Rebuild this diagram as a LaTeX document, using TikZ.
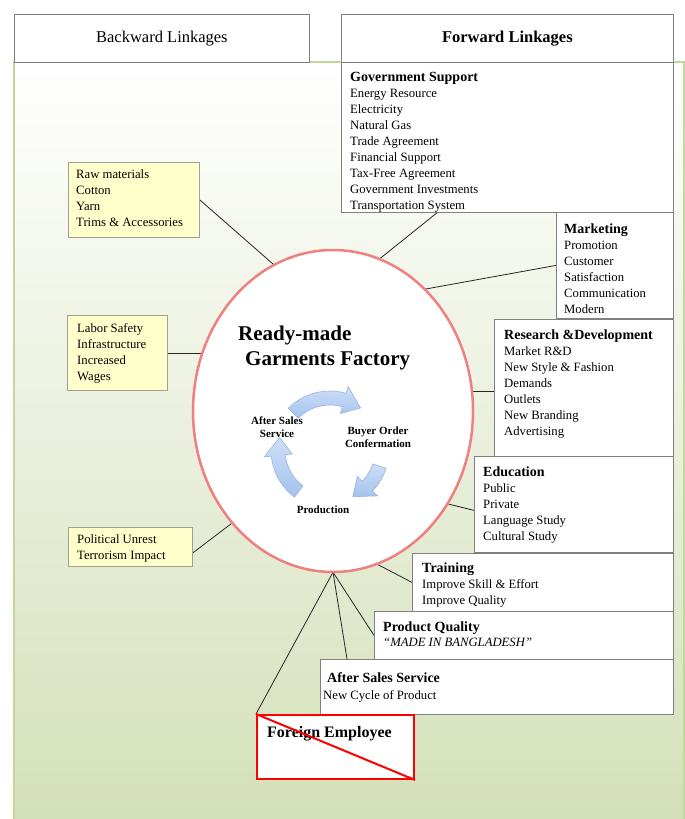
\documentclass[tikz,border=0pt]{standalone}
\usepackage{fontspec}
\setmainfont{Liberation Serif}
\usetikzlibrary{shapes.geometric,calc}
\definecolor{bggreen}{RGB}{212,224,185}
\definecolor{edgegreen}{RGB}{196,215,155}
\definecolor{boxgray}{RGB}{128,128,128}
\definecolor{yel}{RGB}{255,255,204}
\definecolor{yelgray}{RGB}{160,160,150}
\definecolor{ellred}{RGB}{240,128,128}
\definecolor{arrtop}{RGB}{205,222,247}
\definecolor{arrbot}{RGB}{165,195,238}
\definecolor{arredge}{RGB}{150,180,225}
\newcommand{\cycarrow}[2]{%
  \path[top color=arrtop, bottom color=arrbot, draw=arredge, line width=0.6pt] ({#1}:59) arc[start angle={#1}, end angle={#2-20}, radius=59]
    -- ({#2-20}:66) -- ({#2}:52) -- ({#2-20}:38) -- ({#2-20}:45)
    arc[start angle={#2-20}, end angle={#1}, radius=45] -- cycle;}
\begin{document}
\begin{tikzpicture}[x=1pt, y=-1pt,
  fbox/.style={draw=boxgray, line width=0.8pt, fill=white, rectangle, anchor=north west, inner sep=0pt},
  ybox/.style={draw=yelgray, line width=0.8pt, fill=yel, rectangle, anchor=north west, inner sep=0pt},
  txt/.style={anchor=north west, inner sep=0pt, align=left, font=\fontsize{12.7}{16}\selectfont},
  conn/.style={draw=black!85, line width=0.8pt},
  cyclbl/.style={inner sep=0pt, align=center, font=\fontsize{11}{12.5}\selectfont\bfseries}
]
\useasboundingbox (0,0) rectangle (685,819);
\fill[white] (0,0) rectangle (685,819);
% background panel
\fill[top color=white, bottom color=bggreen] (14,62) rectangle (684,819);
\draw[edgegreen, line width=1.5pt] (14,819) -- (14,62) -- (684,62) -- (684,819);

% header boxes
\node[fbox, minimum width=295pt, minimum height=48pt, font=\fontsize{16.5}{18}\selectfont] (back) at (14,14) {Backward Linkages};
\node[fbox, minimum width=332pt, minimum height=48pt, font=\fontsize{16.5}{18}\selectfont\bfseries] (fwd) at (341,14) {Forward Linkages};

% ellipse node (placed first for anchors)
\node[ellipse, minimum width=280pt, minimum height=322pt, inner sep=0pt] (fac) at (333,411) {};

% anchor-only nodes for the boxes
\path node[fbox, draw=none, fill=none, minimum width=332pt, minimum height=150pt] (gov) at (341,62) {}
      node[fbox, draw=none, fill=none, minimum width=117pt, minimum height=106pt] (mkt) at (556,212) {}
      node[fbox, draw=none, fill=none, minimum width=179pt, minimum height=137pt] (rd) at (494,319) {}
      node[fbox, draw=none, fill=none, minimum width=199pt, minimum height=96pt] (edu) at (474,456) {}
      node[fbox, draw=none, fill=none, minimum width=261pt, minimum height=58pt] (tr) at (412,553) {}
      node[fbox, draw=none, fill=none, minimum width=299pt, minimum height=48pt] (pq) at (374,611) {}
      node[fbox, draw=none, fill=none, minimum width=353pt, minimum height=55pt] (as) at (320,659) {}
      node[fbox, draw=none, fill=none, minimum width=157pt, minimum height=64pt] (fe) at (256,714) {}
      node[ybox, draw=none, fill=none, minimum width=131pt, minimum height=75pt] (raw) at (68,162) {}
      node[ybox, draw=none, fill=none, minimum width=100pt, minimum height=75pt] (lab) at (67,315) {}
      node[ybox, draw=none, fill=none, minimum width=124pt, minimum height=39pt] (pol) at (68,527) {};

% connectors
\draw[conn] (raw.east) -- (fac.112);
\draw[conn] (lab.east) -- (lab.east -| fac.center);
\draw[conn] ($(pol.east)+(0,6)$) -- (fac.228);
\draw[conn] (fac.73) -- ($(gov.south west)+(96,0)$);
\draw[conn] (fac.53) -- (mkt.west);
\draw[conn] ($(rd.west)+(0,3)$) -- ($(rd.west -| fac.center)+(0,3)$);
\draw[conn] (fac.321) -- ($(edu.west)+(0,6)$);
\draw[conn] (fac.286) -- (tr.west);
\draw[conn] (fac.south) -- (pq.west);
\draw[conn] (fac.south) -- ($(as.north west)+(27,0)$);
\draw[conn] (fac.south) -- (fe.north west);

% right-hand boxes
\node[fbox, minimum width=332pt, minimum height=150pt] (govbox) at (341,62) {};
\begin{scope}
\clip (gov.south west) rectangle (gov.north east);
\node[txt] (govtxt) at (350,72) {{\fontsize{14}{16}\selectfont\bfseries Government Support}\\Energy Resource\\Electricity\\Natural Gas\\Trade Agreement\\Financial Support\\Tax-Free Agreement\\Government Investments\\Transportation System};
\end{scope}
\node[fbox, minimum width=117pt, minimum height=106pt] (mktbox) at (556,212) {};
\node[txt] (mkttxt) at (564,223.5) {{\fontsize{14}{16}\selectfont\bfseries Marketing}\\Promotion\\Customer\\Satisfaction\\Communication\\Modern};
\node[fbox, minimum width=179pt, minimum height=137pt] (rdbox) at (494,319) {};
\node[txt] (rdtxt) at (504,329.5) {{\fontsize{14}{16}\selectfont\bfseries Research \&Development}\\Market R\&D\\New Style \& Fashion\\Demands\\Outlets\\New Branding\\Advertising};
\node[fbox, minimum width=199pt, minimum height=96pt] (edubox) at (474,456) {};
\node[txt] (edutxt) at (483,466.5) {{\fontsize{14}{16}\selectfont\bfseries Education}\\Public\\Private\\Language Study\\Cultural Study};
\node[fbox, minimum width=261pt, minimum height=58pt] (trbox) at (412,553) {};
\node[txt] (trtxt) at (422,562.5) {{\fontsize{14}{16}\selectfont\bfseries Training}\\Improve Skill \& Effort\\Improve Quality};
\node[fbox, minimum width=299pt, minimum height=48pt] (pqbox) at (374,611) {};
\node[txt, font=\fontsize{12.7}{15}\selectfont] (pqtxt) at (383,621.5) {{\fontsize{14}{15}\selectfont\bfseries Product Quality}\\\textit{``MADE IN BANGLADESH''}};
\node[fbox, minimum width=353pt, minimum height=55pt] (asbox) at (320,659) {};
\node[txt, font=\fontsize{12.7}{17}\selectfont] (astxt) at (327,672.5) {{\fontsize{14}{17}\selectfont\bfseries After Sales Service}\\\hspace*{-4pt}New Cycle of Product};
\node[fbox, draw=red, line width=2pt, minimum width=157pt, minimum height=64pt] (febox) at (256,714) {};
\node[anchor=base west, inner sep=0pt, font=\fontsize{16}{18}\selectfont\bfseries] (fetxt) at (267,737.5) {Foreign Employee};
\draw[red, line width=2pt] (febox.north west) -- (febox.south east);

% left yellow boxes
\node[ybox, minimum width=131pt, minimum height=75pt] (rawbox) at (68,162) {};
\node[txt] (rawtxt) at (76,169.5) {Raw materials\\Cotton\\Yarn\\Trims \& Accessories};
\node[ybox, minimum width=100pt, minimum height=75pt] (labbox) at (67,315) {};
\node[txt] (labtxt) at (77,323.5) {Labor Safety\\Infrastructure\\Increased\\Wages};
\node[ybox, minimum width=124pt, minimum height=39pt] (polbox) at (68,527) {};
\node[txt] (poltxt) at (77,534.5) {Political Unrest\\Terrorism Impact};

% central ellipse
\node[ellipse, draw=ellred, line width=2.5pt, fill=white, minimum width=280pt, minimum height=322pt, inner sep=0pt] (facbox) at (333,411) {};
\node[anchor=base west, inner sep=0pt, font=\fontsize{21}{24}\selectfont\bfseries] (t1) at (238,340) {Ready-made};
\node[anchor=base west, inner sep=0pt, font=\fontsize{21}{24}\selectfont\bfseries] (t2) at (245,365) {Garments Factory};

% cycle
\begin{scope}[shift={(330,450)}]
\cycarrow{-135}{-54}
\cycarrow{18}{64}
\cycarrow{127}{194}
\end{scope}
\node[cyclbl] (c1) at (277,427) {After Sales\\Service};
\node[cyclbl] (c2) at (378,437) {Buyer Order\\Confermation};
\node[cyclbl, anchor=base] (c3) at (323,513) {Production};
\end{tikzpicture}
\end{document}
